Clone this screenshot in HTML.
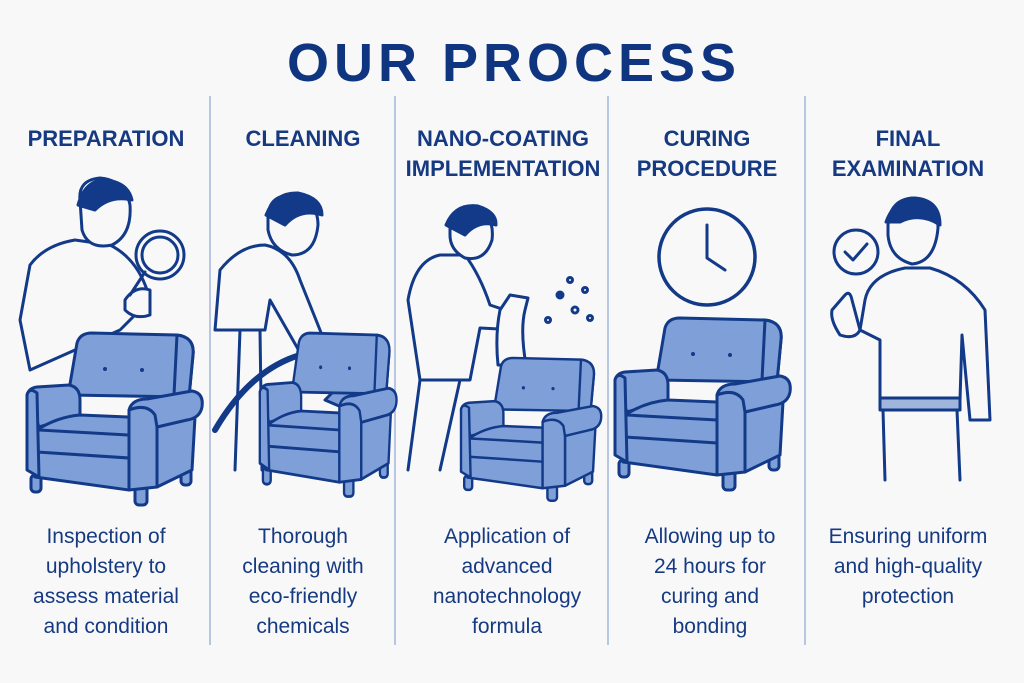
<!DOCTYPE html>
<html><head><meta charset="utf-8"><style>
html,body{margin:0;padding:0;background:#f8f8f8;}
svg{display:block;}
text{font-family:"Liberation Sans",sans-serif;fill:#163a82;}
</style></head><body>
<svg width="1024" height="683" viewBox="0 0 1024 683" xmlns="http://www.w3.org/2000/svg">
<rect width="1024" height="683" fill="#f8f8f8"/>
<defs>
<g id="chair" stroke="#123a88" stroke-width="3" stroke-linejoin="round" stroke-linecap="round" fill="#7f9fd8">
<rect x="14" y="160" width="10" height="17" rx="4"/>
<rect x="118" y="170" width="12" height="20" rx="4"/>
<rect x="164" y="153" width="10" height="17" rx="4"/>
<path d="M52,75 L60,28 Q63,18 75,18 L160,20 Q178,22 176,40 L172,82 L52,80 Z"/>
<path d="M160,20 Q178,22 176,40 L172,82 L157,80 Z"/>
<path d="M10,80 Q12,73 20,72 L52,70 Q63,72 63,85 L63,100 L22,112 Z"/>
<path d="M20,115 Q40,102 63,100 L112,102 L112,175 L18,162 Z"/>
<path d="M22,115 L112,120 M20,137 L112,143" fill="none"/>
<path d="M10,80 Q12,72 20,78 L22,162 L10,155 Z"/>
<path d="M140,112 L178,102 L175,155 L140,172 Z"/>
<path d="M112,95 Q115,84 130,84 L175,76 Q187,78 185,92 Q183,103 170,105 L140,112 L140,172 L112,175 Z"/>
<path d="M112,95 Q130,88 138,100 L140,112" fill="none"/>
<circle cx="88" cy="54" r="2" fill="#123a88" stroke="none"/>
<circle cx="125" cy="55" r="2" fill="#123a88" stroke="none"/>
</g>
</defs>
<text x="514" y="81" font-size="54" font-weight="bold" text-anchor="middle" style="fill:#0f3580" letter-spacing="5">OUR PROCESS</text>
<g stroke="#9fb5dc" stroke-width="1.5">
<line x1="210" y1="96" x2="210" y2="645"/><line x1="395" y1="96" x2="395" y2="645"/>
<line x1="608" y1="96" x2="608" y2="645"/><line x1="805" y1="96" x2="805" y2="645"/>
</g>
<g font-size="22" font-weight="bold" text-anchor="middle">
<text x="106" y="146">PREPARATION</text>
<text x="303" y="146">CLEANING</text>
<text x="503" y="146">NANO-COATING</text>
<text x="503" y="176">IMPLEMENTATION</text>
<text x="707" y="146">CURING</text>
<text x="707" y="176">PROCEDURE</text>
<text x="908" y="146">FINAL</text>
<text x="908" y="176">EXAMINATION</text>
</g>
<g font-size="21" text-anchor="middle">
<text x="106" y="543">Inspection of</text><text x="106" y="573">upholstery to</text><text x="106" y="603">assess material</text><text x="106" y="633">and condition</text>
<text x="303" y="543">Thorough</text><text x="303" y="573">cleaning with</text><text x="303" y="603">eco-friendly</text><text x="303" y="633">chemicals</text>
<text x="507" y="543">Application of</text><text x="507" y="573">advanced</text><text x="507" y="603">nanotechnology</text><text x="507" y="633">formula</text>
<text x="710" y="543">Allowing up to</text><text x="710" y="573">24 hours for</text><text x="710" y="603">curing and</text><text x="710" y="633">bonding</text>
<text x="908" y="543">Ensuring uniform</text><text x="908" y="573">and high-quality</text><text x="908" y="603">protection</text>
</g>
<g stroke="#123a88" stroke-width="3" fill="#f8f8f8" stroke-linecap="round" stroke-linejoin="round">
<path d="M20,320 L30,265 Q45,245 75,240 L110,245 Q140,260 150,300 L120,330 L30,370 Z"/>
<path d="M80,200 Q78,180 100,178 Q125,180 130,205 Q132,235 112,245 Q88,250 82,230 Z"/>
<path d="M78,205 Q85,180 105,180 Q128,182 132,200 Q110,195 95,210 Z" fill="#123a88"/>
<circle cx="160" cy="255" r="24" fill="#f8f8f8"/><circle cx="160" cy="255" r="18"/>
<path d="M145,272 L130,295 M125,300 Q135,285 150,290 L150,315 Q135,320 125,310 Z"/>
<path d="M215,330 L220,270 Q240,245 265,245 Q290,250 300,280 L330,355 L310,370 L270,300 L265,330 Z"/>
<path d="M268,215 Q270,195 292,195 Q318,200 318,225 Q315,255 292,255 Q272,250 268,230 Z"/>
<path d="M266,215 Q275,192 298,193 Q322,198 322,215 Q300,208 285,225 Z" fill="#123a88"/>
<path d="M240,330 L235,470 M260,330 L262,470" fill="none"/>
<path d="M215,430 Q250,370 300,355" fill="none" stroke-width="6"/>
<path d="M325,400 L345,380 L360,415 Z" fill="#7f9fd8"/>
<path d="M408,300 Q415,260 440,255 L465,255 Q480,275 490,305 L520,315 L518,330 L480,328 L470,380 L420,380 Z"/>
<path d="M450,222 Q455,205 475,208 Q495,215 492,240 Q485,262 465,258 Q450,250 450,235 Z"/>
<path d="M446,225 Q455,203 478,206 Q497,212 496,225 Q478,220 465,235 Z" fill="#123a88"/>
<path d="M420,380 L408,470 M460,380 L440,470" fill="none"/>
<path d="M500,310 L510,295 L528,298 L525,310 Q520,330 526,365 L498,365 Q495,335 500,310 Z"/>
<circle cx="560" cy="295" r="3" fill="#123a88"/><circle cx="575" cy="310" r="3"/><circle cx="585" cy="290" r="2.5"/><circle cx="570" cy="280" r="2.5"/><circle cx="548" cy="320" r="2.5"/><circle cx="590" cy="318" r="2.5"/>
<circle cx="707" cy="257" r="48" stroke-width="3.5"/>
<path d="M707,225 L707,258 L725,270" fill="none"/>
<path d="M865,300 Q870,275 905,268 L930,268 Q965,278 985,310 L990,420 L970,420 L962,335 L960,400 L880,400 L880,340 L860,330 Z"/>
<path d="M888,225 Q890,200 912,198 Q938,200 938,228 Q935,262 912,264 Q890,258 888,235 Z"/>
<path d="M886,222 Q895,198 915,198 Q940,200 940,225 Q920,212 900,222 Z" fill="#123a88"/>
<rect x="880" y="398" width="80" height="12" fill="#9fb5dc"/>
<path d="M883,410 L885,480 M957,410 L960,480" fill="none"/>
<path d="M845,295 Q850,290 852,300 L860,330 Q855,340 840,335 Q830,320 832,310 Z"/>
<circle cx="856" cy="252" r="22"/><path d="M845,252 L853,260 L867,244" fill="none"/>
</g>
<use href="#chair" transform="translate(17,315) scale(1,1)"/>
<use href="#chair" transform="translate(252,316) scale(0.78,0.95)"/>
<use href="#chair" transform="translate(453,343) scale(0.8,0.83)"/>
<use href="#chair" transform="translate(605,300)"/>
</svg>
</body></html>
